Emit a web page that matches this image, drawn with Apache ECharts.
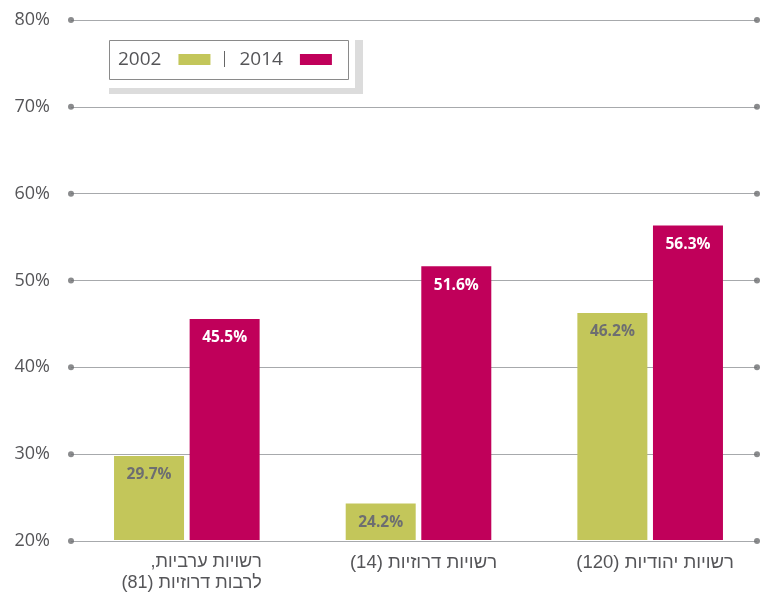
<!DOCTYPE html>
<html><head><meta charset="utf-8">
<script src="https://cdn.jsdelivr.net/npm/echarts@6/dist/echarts.min.js"></script>
<style>html,body{margin:0;padding:0;background:#fff}#c{width:766px;height:594px}</style>
</head><body><div id="c"></div>
<script>
const categories = ['\u200Fרשויות ערביות,\u200F\n\u200Fלרבות דרוזיות (81)\u200F', '\u200Fרשויות דרוזיות (14)\u200F', '\u200Fרשויות יהודיות (120)\u200F'];
const years = ['2002', '2014'];
const values2002 = [29.7, 24.2, 46.2];
const values2014 = [45.5, 51.6, 56.3];
const tickValues = [20, 30, 40, 50, 60, 70, 80];

const FONT = '"Open Sans", "Liberation Sans", "DejaVu Sans", sans-serif';
const HFONT = '"Liberation Sans", "DejaVu Sans", sans-serif';
const GREEN = '#c3c65a', MAGENTA = '#c0005a', TXT = '#555558';

const chart = echarts.init(document.getElementById('c'), null, {renderer: 'canvas'});
const dots = [];
tickValues.forEach(v => { dots.push([0, v]); dots.push([1, v]); });

chart.setOption({
  animation: false,
  textStyle: {fontFamily: FONT},
  grid: [
    {left: 71, right: 9, top: 20, bottom: 53},
    {left: 71, right: 0, top: 20, bottom: 53}
  ],
  xAxis: [
    {gridIndex: 0, type: 'value', min: 0, max: 1, show: false},
    {gridIndex: 1, type: 'category', data: categories,
     axisLine: {show: false}, axisTick: {show: false},
     axisLabel: {interval: 0, hideOverlap: false, color: TXT, fontSize: 18, lineHeight: 21, margin: 12, fontFamily: HFONT,
       formatter: (v) => v.indexOf('\n') >= 0 ? v.split('\n').map(s => '{r|' + s + '}').join('\n') : '{c|' + v + '}',
       rich: {
         r: {width: 136, align: 'right', fontSize: 18, lineHeight: 21, fontFamily: HFONT, color: TXT, padding: [0, 0, 0, 14]},
         c: {fontSize: 18.5, lineHeight: 21, fontFamily: HFONT, color: TXT, padding: [0, 0, 0, 10]}
       }}}
  ],
  yAxis: [
    {gridIndex: 0, type: 'value', min: 20, max: 80, interval: 10,
     axisLine: {show: false}, axisTick: {show: false},
     splitLine: {show: true, lineStyle: {color: '#a7a9ac', width: 1}},
     axisLabel: {formatter: '{value}%', color: TXT, fontSize: 18, margin: 21, fontFamily: FONT}},
    {gridIndex: 1, type: 'value', min: 20, max: 80, interval: 10, show: false}
  ],
  legend: {
    data: years, left: 118, top: 50, padding: 0, align: 'right', itemWidth: 32, itemHeight: 11,
    itemGap: 29, icon: 'rect',
    textStyle: {color: TXT, fontSize: 19, fontFamily: FONT, padding: [0, 12, 0, 0]}
  },
  graphic: [
    {type: 'rect', shape: {x: 109, y: 40, width: 254, height: 54}, style: {fill: '#dcdcdc'}, z: -1},
    {type: 'rect', shape: {x: 109, y: 40, width: 246, height: 48}, style: {fill: '#fff'}, z: -1},
    {type: 'rect', shape: {x: 109.5, y: 40.5, width: 239, height: 39}, style: {fill: '#fff', stroke: '#8a8a8a', lineWidth: 1}, z: -1},
    {type: 'line', shape: {x1: 224.5, y1: 51, x2: 224.5, y2: 67}, style: {stroke: '#666', lineWidth: 1}, z: 10}
  ],
  series: [
    {type: 'scatter', xAxisIndex: 0, yAxisIndex: 0, data: dots, symbolSize: 6,
     itemStyle: {color: '#6d6e71'}, silent: true, clip: false, legendHoverLink: false},
    {name: '2002', type: 'bar', xAxisIndex: 1, yAxisIndex: 1, data: values2002,
     barWidth: 70, barGap: '8%', itemStyle: {color: GREEN},
     label: {show: true, position: 'insideTop', distance: 11, formatter: p => p.value.toFixed(1) + '%',
       color: '#6d6e71', fontWeight: 'bold', fontSize: 15.5, fontFamily: FONT}},
    {name: '2014', type: 'bar', xAxisIndex: 1, yAxisIndex: 1, data: values2014,
     barWidth: 70, barGap: '8%', itemStyle: {color: MAGENTA},
     label: {show: true, position: 'insideTop', distance: 11, formatter: p => p.value.toFixed(1) + '%',
       color: '#fff', fontWeight: 'bold', fontSize: 15.5, fontFamily: FONT}}
  ]
});
</script></body></html>
